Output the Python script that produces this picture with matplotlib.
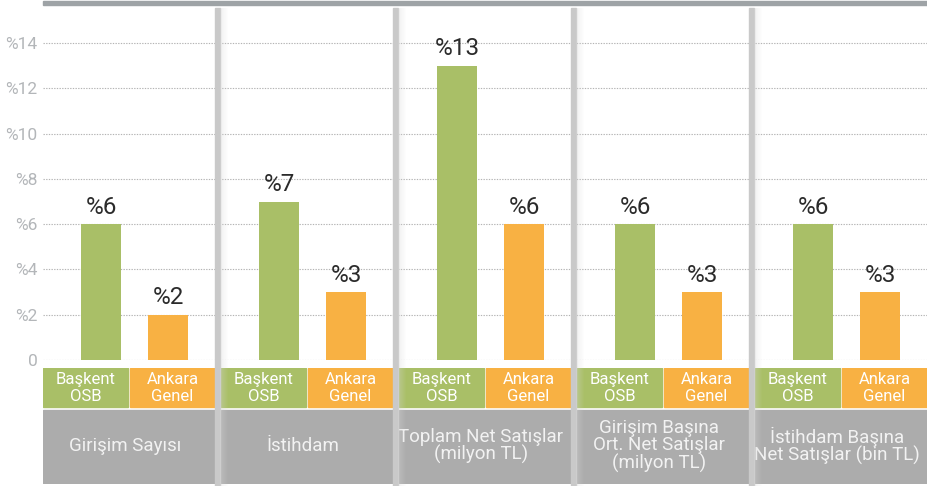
import matplotlib.pyplot as plt
import matplotlib.patches as mpatches
from matplotlib.transforms import blended_transform_factory
import numpy as np

plt.rcParams['font.family'] = ['Roboto', 'DejaVu Sans']

# data
groups = ['Girişim Sayısı', 'İstihdam', 'Toplam Net Satışlar\n(milyon TL)',
          'Girişim Başına\nOrt. Net Satışlar\n(milyon TL)',
          'İstihdam Başına\nNet Satışlar (bin TL)']
baskent = [6, 7, 13, 6, 6]
ankara = [2, 3, 6, 3, 3]
series_names = ['Başkent\nOSB', 'Ankara\nGenel']
yticks = [0, 2, 4, 6, 8, 10, 12, 14]
ytick_labels = ['0', '%2', '%4', '%6', '%8', '%10', '%12', '%14']

green = '#a9bf67'
orange = '#f8b143'
grey_box = '#acacac'
sep_grey = '#c9c9c9'

W, H = 927, 486
fig = plt.figure(figsize=(W / 100, H / 100), dpi=100)

def fx(px):
    return px / W

def fy(py):
    return 1 - py / H

# group pitch 178px, group width 172px, axes starts at x=43
pitch = 178.0
gw = 172.0 / pitch
x_max = 884.0 / pitch
y_max = 356.0 / 22.64

ax = fig.add_axes([fx(43), fy(360), fx(884), 356 / H])
ax.set_xlim(0, x_max)
ax.set_ylim(0, y_max)
for s in ax.spines.values():
    s.set_visible(False)

idx = np.arange(len(groups))
bw = 40 / pitch
g_off = 58 / pitch
o_off = 125 / pitch

for y in yticks:
    ax.axhline(y, color='#b4b4b4', lw=0.8, ls=(0, (1.2, 1.2)), zorder=1)

b1 = ax.bar(idx + g_off, baskent, width=bw, color=green, zorder=3)
b2 = ax.bar(idx + o_off, ankara, width=bw, color=orange, zorder=3)
for bars, vals in ((b1, baskent), (b2, ankara)):
    for r, v in zip(bars, vals):
        ax.annotate('%' + str(v), (r.get_x() + r.get_width() / 2, v),
                    xytext=(0, 4), textcoords='offset points',
                    ha='center', va='bottom', fontsize=17.5, color='#2b2b2b',
                    zorder=4)

ax.set_xticks([])
ax.set_yticks(yticks)
ax.set_yticklabels(ytick_labels, fontsize=12.5, color='#b3b6b9')
ax.tick_params(axis='y', length=0, pad=4)

# top grey bar
fig.patches.append(mpatches.Rectangle((fx(43), fy(5)), fx(884), 3.5 / H,
                                      transform=fig.transFigure,
                                      color='#9ea3a6', zorder=5))

# bottom label strip
bx = fig.add_axes([fx(43), fy(484), fx(884), 116 / H])
bx.set_xlim(0, x_max)
bx.set_ylim(484, 368)
bx.axis('off')
box_w = 85 / pitch
for i, name in enumerate(groups):
    for j, (col, lab) in enumerate(((green, series_names[0]), (orange, series_names[1]))):
        x0 = i + j * 87 / pitch
        bx.add_patch(mpatches.Rectangle((x0, 368), box_w, 39, color=col))
        bx.text(x0 + box_w / 2, 388, lab, ha='center', va='center',
                fontsize=12, color='white', linespacing=1.1)
    bx.add_patch(mpatches.Rectangle((i, 410), gw, 73, color=grey_box))
    bx.text(i + gw / 2 - 4 / pitch, 446, name, ha='center', va='center',
            fontsize=13.5, color='#f2f2f2', linespacing=0.95)

# group separators with soft shadow
tr = blended_transform_factory(ax.transData, fig.transFigure)
for i in range(1, len(groups)):
    x0 = i - 6 / pitch
    fig.patches.append(mpatches.Rectangle((x0, 0), 5 / pitch, fy(8), transform=tr,
                                          color=sep_grey, zorder=2))
    for k in range(8):
        fig.patches.append(mpatches.Rectangle((x0 + (5 + k) / pitch, 0), 1 / pitch, fy(8),
                                              transform=tr, color='#d8d8d8',
                                              alpha=0.35 * (1 - k / 8), lw=0, zorder=2))

fig.savefig('out.png', dpi=100)
